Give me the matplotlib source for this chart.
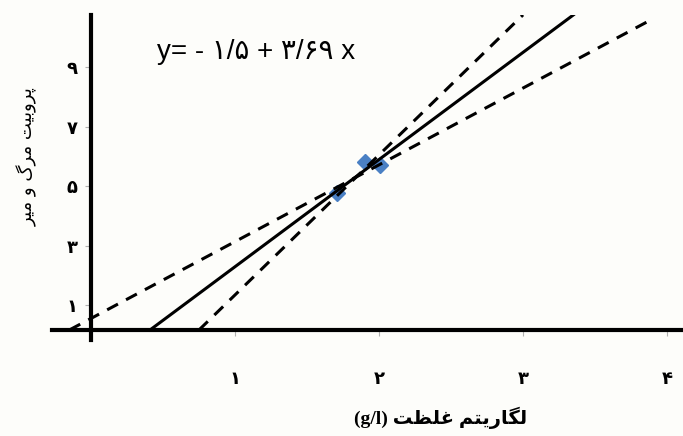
import matplotlib
matplotlib.use("Agg")
import matplotlib.pyplot as plt

# values
pts_x = [1.71, 1.90, 2.01]
pts_y = [4.77, 5.82, 5.71]
fit_x = [0.41, 3.35]          # solid regression line
fit_y = [0.17, 10.76]
low_x = [-0.15, 3.86]         # shallow dashed limit
low_y = [0.17, 10.52]
high_x = [0.75, 3.00]         # steep dashed limit
high_y = [0.17, 10.76]
xticks = [1, 2, 3, 4]
xtick_labels = ["۱", "۲", "۳", "۴"]
yticks = [1, 3, 5, 7, 9]
ytick_labels = ["۱", "۳", "۵", "۷", "۹"]
equation = "y= - ۱/۵ + ۳/۶۹ x"
xlabel_fa = "لگاریتم غلظت"
ylabel_fa = "پروبیت مرگ و میر"

# matplotlib has no arabic shaping, so do it by hand with presentation forms
FORMS = {
    'ا': ('\uFE8D', '\uFE8E', None, None),
    'ب': ('\uFE8F', '\uFE90', '\uFE91', '\uFE92'),
    'پ': ('\uFB56', '\uFB57', '\uFB58', '\uFB59'),
    'ت': ('\uFE95', '\uFE96', '\uFE97', '\uFE98'),
    'ر': ('\uFEAD', '\uFEAE', None, None),
    'ظ': ('\uFEC5', '\uFEC6', '\uFEC7', '\uFEC8'),
    'غ': ('\uFECD', '\uFECE', '\uFECF', '\uFED0'),
    'گ': ('\uFB92', '\uFB93', '\uFB94', '\uFB95'),
    'ل': ('\uFEDD', '\uFEDE', '\uFEDF', '\uFEE0'),
    'م': ('\uFEE1', '\uFEE2', '\uFEE3', '\uFEE4'),
    'و': ('\uFEED', '\uFEEE', None, None),
    'ی': ('\uFBFC', '\uFBFD', '\uFBFE', '\uFBFF'),
}


def shape(text):
    out = []
    for i, ch in enumerate(text):
        f = FORMS.get(ch)
        if f is None:
            out.append(ch)
            continue
        prev = text[i - 1] if i > 0 else ''
        nxt = text[i + 1] if i + 1 < len(text) else ''
        jp = prev in FORMS and FORMS[prev][2] is not None
        jn = nxt in FORMS and f[2] is not None
        if jp and jn:
            out.append(f[3])
        elif jp:
            out.append(f[1])
        elif jn:
            out.append(f[2])
        else:
            out.append(f[0])
    return ''.join(reversed(out))


bg = '#fdfdfa'
fig = plt.figure(figsize=(6.83, 4.36), dpi=100, facecolor=bg)
ax = fig.add_axes([52 / 683, 96 / 436, 631 / 683, 325 / 436])
ax.set_facecolor(bg)
ax.set_xlim(-0.271, 4.111)
ax.set_ylim(-0.168, 10.756)

ax.plot(pts_x, pts_y, 'D', color='#4a80c4', ms=8.5, zorder=2)
ax.plot(fit_x, fit_y, color='black', lw=2.2, zorder=3)
ax.plot(low_x, low_y, color='black', lw=2.2, dashes=(4, 3), zorder=3)
ax.plot(high_x, high_y, color='black', lw=2.2, dashes=(4, 3), zorder=3)

for s in ['top', 'right']:
    ax.spines[s].set_visible(False)
ax.spines['left'].set_position(('data', 0))
ax.spines['bottom'].set_position(('data', 0.17))
for s in ['left', 'bottom']:
    ax.spines[s].set_linewidth(3)
    ax.spines[s].set_zorder(4)

ax.set_xticks(xticks, xtick_labels)
ax.set_yticks(yticks, ytick_labels)
ax.tick_params(direction='out', length=4.5, width=0.8, color='#b0b0b0',
               labelsize=13)
ax.tick_params(axis='x', pad=24)
ax.tick_params(axis='y', pad=5)
for t in ax.get_xticklabels() + ax.get_yticklabels():
    t.set_fontweight('bold')

ax.text(1.146, 9.51, equation, ha='center', va='center', fontsize=20,
        family=['Liberation Sans', 'DejaVu Sans'])

ax.set_xlabel("(g/l) " + shape(xlabel_fa), fontsize=14, fontweight='bold',
              family=['Liberation Serif', 'DejaVu Sans'])
ax.xaxis.set_label_coords(0.616, -0.205)
ax.set_ylabel(shape(ylabel_fa), fontsize=13)
ax.yaxis.set_label_coords(-0.022, 0.563)

fig.savefig('out.png', dpi=100, facecolor=bg)
